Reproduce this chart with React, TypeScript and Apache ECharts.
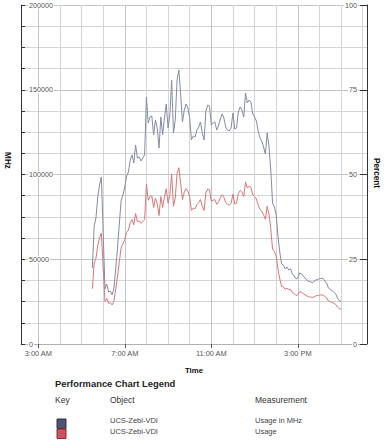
import React, { useEffect, useRef } from "react";
import * as echarts from "echarts";

// ---- Data ----
const START_HOUR = 5.5; // 5:30 AM
const STEP_MINUTES = 5;

const usageMHz = [
  44840, 69620, 74340, 86730, 93810, 98530, 65490, 32450, 35400, 30680,
  31200, 28910, 33040, 44840, 57230, 71390, 84960, 87910, 92630, 99120,
  101480, 108560, 111510, 106790, 117410, 109740, 110330, 107970, 109740, 111510,
  145730, 130390, 133930, 134500, 123310, 132160, 127440, 115640, 133930, 123310,
  133340, 141600, 127440, 135110, 155760, 124490, 132160, 155760, 161660, 146910,
  130980, 138060, 141600, 139240, 133340, 120360, 122720, 122130, 126260, 128030,
  130980, 124490, 120360, 137470, 141010, 140420, 129210, 130390, 131000, 126260,
  128620, 132750, 135700, 133340, 128030, 126260, 125670, 127440, 136290, 126850,
  127440, 136880, 139830, 138060, 133930, 148090, 142190, 143960, 142700, 135700,
  133930, 131570, 125670, 121540, 119770, 116230, 112100, 124490, 116820, 102660,
  83190, 80830, 76110, 63720, 54280, 47200, 46610, 44250, 45430, 43660,
  44250, 41300, 40120, 38350, 38940, 41890, 41500, 40120, 38940, 37760,
  36880, 36760, 36170, 36880, 37760, 38060, 38470, 38760, 38650, 37170,
  35990, 33040, 32270, 31510, 30500, 29620, 27140, 25550, 25300,
];

const usagePercent = [
  16.3, 23.9, 25.3, 29.1, 31.3, 32.7, 22.6, 12.5, 13.4, 12.0,
  12.2, 11.5, 12.7, 16.3, 20.1, 24.4, 28.6, 29.5, 30.9, 32.9,
  33.6, 35.8, 36.7, 35.2, 38.5, 36.1, 36.3, 35.6, 36.1, 36.7,
  47.1, 42.4, 43.5, 43.7, 40.3, 43.0, 41.5, 37.9, 43.5, 40.3,
  43.3, 45.8, 41.5, 43.9, 50.2, 40.6, 43.0, 50.2, 52.0, 47.5,
  42.6, 44.8, 45.8, 45.1, 43.3, 39.4, 40.1, 39.9, 41.2, 41.7,
  42.6, 40.6, 39.4, 44.6, 45.7, 45.5, 42.1, 42.4, 42.6, 41.2,
  41.9, 43.1, 44.0, 43.3, 41.7, 41.2, 41.0, 41.5, 44.2, 41.3,
  41.5, 44.4, 45.3, 44.8, 43.5, 47.8, 46.0, 46.6, 46.2, 44.0,
  43.5, 42.8, 41.0, 39.7, 39.2, 38.1, 36.8, 40.6, 38.3, 34.0,
  28.0, 27.3, 25.9, 22.1, 19.2, 17.0, 16.9, 16.1, 16.5, 16.0,
  16.1, 15.2, 14.9, 14.3, 14.5, 15.4, 15.3, 14.9, 14.5, 14.2,
  13.9, 13.9, 13.7, 13.9, 14.2, 14.3, 14.4, 14.5, 14.4, 14.0,
  13.6, 12.7, 12.5, 12.3, 12.0, 11.7, 10.9, 10.4, 10.3,
];

const xTickHours = [3, 7, 11, 15];
const xTickLabels = ["3:00 AM", "7:00 AM", "11:00 AM", "3:00 PM"];
const xGridHours = [3, 4, 5, 6, 7, 8, 9, 10, 11, 12, 13, 14, 15, 16, 17, 18];

const legendRows = [
  { object: "UCS-Zebi-VDI", measurement: "Usage in MHz", color: "#4d5372", border: "#2c3047" },
  { object: "UCS-Zebi-VDI", measurement: "Usage", color: "#cc525b", border: "#8a2c34" },
];

const seriesColors = ["#858ba5", "#d9777a"];

const FONT = '"Liberation Sans", Arial, sans-serif';
const GRID_MAJOR = "#c4c4c4";
const GRID_MINOR = "#d4d4d4";

export default function App() {
  const ref = useRef<HTMLDivElement>(null);

  useEffect(() => {
    if (!ref.current) return;
    const chart = echarts.init(ref.current, undefined, { renderer: "svg" });
    const times = usageMHz.map((_, i) => START_HOUR + (i * STEP_MINUTES) / 60);

    const graphic: any[] = [
      {
        type: "text", x: 7.5, y: 160.5, rotation: -Math.PI / 2,
        style: { text: "MHz", fontFamily: FONT, fontWeight: "bold", fontSize: 8.2, fill: "#111", align: "center", verticalAlign: "middle" },
      },
      {
        type: "text", x: 376, y: 173, rotation: -Math.PI / 2,
        style: { text: "Percent", fontFamily: FONT, fontWeight: "bold", fontSize: 8.2, fill: "#111", align: "center", verticalAlign: "middle" },
      },
      {
        type: "text", x: 55, y: 383,
        style: { text: "Performance Chart Legend", fontFamily: FONT, fontWeight: "bold", fontSize: 9.4, fill: "#1e1e1e", align: "left", verticalAlign: "middle" },
      },
      {
        type: "text", x: 55, y: 400,
        style: { text: "Key", fontFamily: FONT, fontSize: 8.5, fill: "#333", align: "left", verticalAlign: "middle" },
      },
      {
        type: "text", x: 110, y: 400,
        style: { text: "Object", fontFamily: FONT, fontSize: 8.5, fill: "#333", align: "left", verticalAlign: "middle" },
      },
      {
        type: "text", x: 255, y: 400,
        style: { text: "Measurement", fontFamily: FONT, fontSize: 8.5, fill: "#333", align: "left", verticalAlign: "middle" },
      },
    ];
    legendRows.forEach((row, i) => {
      const top = 419 + i * 10;
      graphic.push({
        type: "rect",
        shape: { x: 57, y: top, width: 9, height: 9.5 },
        style: { fill: row.color, stroke: row.border, lineWidth: 1 },
      });
      graphic.push({
        type: "text", x: 110, y: 420.5 + i * 11,
        style: { text: row.object, fontFamily: FONT, fontSize: 7.5, fill: "#444", align: "left", verticalAlign: "middle" },
      });
      graphic.push({
        type: "text", x: 255, y: 420.5 + i * 11,
        style: { text: row.measurement, fontFamily: FONT, fontSize: 7.5, fill: "#444", align: "left", verticalAlign: "middle" },
      });
    });

    const labelRich = {
      b: { fontSize: 7.2, color: "#555", fontFamily: FONT, backgroundColor: "#fff", padding: [0, 1] },
    };

    chart.setOption({
      animation: false,
      backgroundColor: "#fff",
      grid: { left: 21, right: 19, top: 5, bottom: 101, containLabel: false, outerBoundsMode: "none" } as any,
      xAxis: [
        {
          type: "value", position: "bottom", min: 2.2, max: 18.2,
          axisLine: { show: true, lineStyle: { color: "#b0b0b0", width: 1 } },
          axisTick: { show: true, customValues: xGridHours, length: 1, lineStyle: { color: "#b0b0b0", opacity: 0 } },
          axisLabel: {
            show: true, customValues: xTickHours, margin: 6, fontSize: 7.4, color: "#555", fontFamily: FONT,
            formatter: (v: number) => {
              const idx = xTickHours.indexOf(Math.round(v));
              return idx >= 0 ? xTickLabels[idx] : "";
            },
          },
          splitLine: { show: true, lineStyle: { color: [GRID_MAJOR, GRID_MINOR, GRID_MINOR, GRID_MINOR], width: 1 } },
          name: "Time", nameLocation: "middle", nameGap: 22,
          nameTextStyle: { fontFamily: FONT, fontWeight: "bold", fontSize: 7.8, color: "#111" },
        },
        {
          type: "value", position: "bottom", min: 2.2, max: 18.2,
          axisLine: { show: false }, axisLabel: { show: false },
          axisTick: { show: true, customValues: xTickHours, length: 4, lineStyle: { color: "#555" } },
          splitLine: { show: false },
        },
      ],
      yAxis: [
        {
          type: "value", position: "left", min: 0, max: 200000, interval: 12500,
          axisLine: { show: true, lineStyle: { color: "#333", width: 1 } },
          axisTick: { show: true, inside: true, length: 4, lineStyle: { color: "#333" } },
          axisLabel: {
            inside: true, margin: 7, rich: labelRich,
            formatter: (v: number) => (v % 50000 === 0 ? "{b|" + v + "}" : ""),
          },
          splitLine: { show: true, lineStyle: { color: [GRID_MAJOR, GRID_MINOR, GRID_MINOR, GRID_MINOR], width: 1 } },
        },
        {
          type: "value", position: "right", min: 0, max: 100, interval: 25,
          axisLine: { show: true, lineStyle: { color: "#333", width: 1 } },
          axisTick: { show: true, inside: true, length: 7, lineStyle: { color: "#333" } },
          axisLabel: {
            inside: true, margin: 9, rich: labelRich,
            formatter: (v: number) => "{b|" + v + "}",
          },
          splitLine: { show: false },
        },
      ],
      series: [
        {
          name: "Usage in MHz", type: "line", xAxisIndex: 0, yAxisIndex: 0,
          showSymbol: false, symbol: "none",
          lineStyle: { color: seriesColors[0], width: 1 },
          itemStyle: { color: seriesColors[0] },
          data: usageMHz.map((v, i) => [times[i], v]),
        },
        {
          name: "Usage", type: "line", xAxisIndex: 0, yAxisIndex: 1,
          showSymbol: false, symbol: "none",
          lineStyle: { color: seriesColors[1], width: 1 },
          itemStyle: { color: seriesColors[1] },
          data: usagePercent.map((v, i) => [times[i], v]),
        },
      ],
      graphic,
    });

    return () => chart.dispose();
  }, []);

  return (
    <div
      ref={ref}
      style={{ position: "fixed", left: 0, top: 0, width: 386, height: 445, background: "#fff" }}
    />
  );
}
